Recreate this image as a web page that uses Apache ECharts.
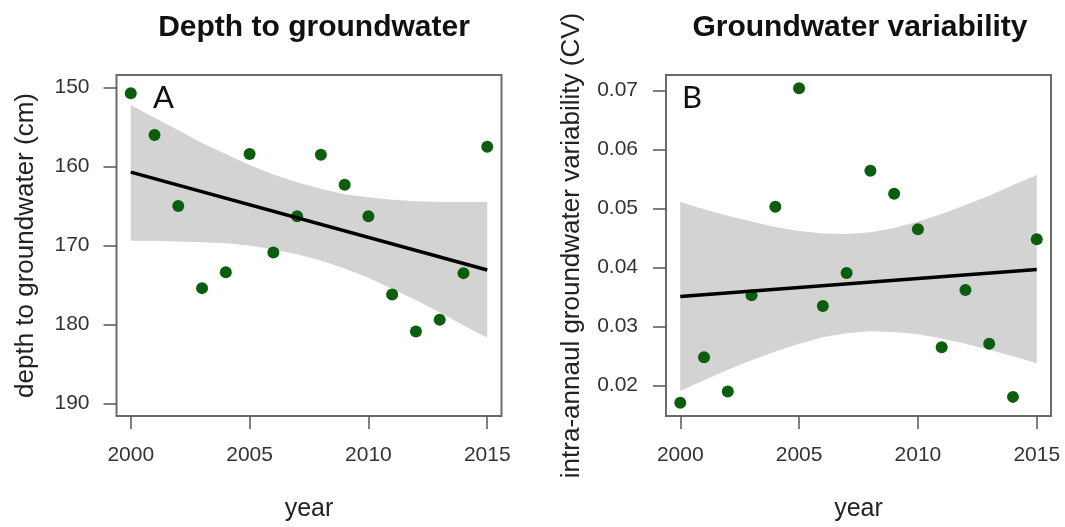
<!DOCTYPE html>
<html>
<head>
<meta charset="utf-8">
<script src="https://cdn.jsdelivr.net/npm/echarts@6/dist/echarts.min.js"></script>
<style>
html,body{margin:0;padding:0;background:#fff;}
#chart{width:1065px;height:527px;}
</style>
</head>
<body>
<div id="chart"></div>
<script>
// ---- data ----
const years = [2000,2001,2002,2003,2004,2005,2006,2007,2008,2009,2010,2011,2012,2013,2014,2015];
const xTicks = [2000,2005,2010,2015];

// Panel A: depth to groundwater (cm)
const depth = [150.7,156.0,165.0,175.4,173.4,158.4,170.9,166.3,158.5,162.3,166.3,176.2,180.9,179.4,173.5,157.5];
const depthFitYears = [2000,2015];
const depthFit = [160.7,173.1];
const depthUpper = [152.2,153.8,155.4,157.0,158.4,159.8,161.0,162.0,162.8,163.5,163.9,164.2,164.4,164.5,164.5,164.5];
const depthLower = [169.4,169.4,169.5,169.6,169.7,170.0,170.5,171.1,171.9,172.9,174.1,175.5,176.9,178.5,180.1,181.7];
const depthTicks = [150,160,170,180,190];

// Panel B: intra-annual groundwater variability (CV)
const cv = [0.0171,0.0248,0.0190,0.0353,0.0503,0.0704,0.0335,0.0391,0.0564,0.0525,0.0465,0.0265,0.0362,0.0271,0.0181,0.0448];
const cvFitYears = [2000,2015];
const cvFit = [0.0351,0.0397];
const cvUpper = [0.0511,0.0499,0.0488,0.0478,0.0469,0.0462,0.0458,0.0457,0.0460,0.0467,0.0478,0.0491,0.0506,0.0522,0.0540,0.0557];
const cvLower = [0.0191,0.0209,0.0227,0.0243,0.0258,0.0271,0.0282,0.0289,0.0292,0.0291,0.0287,0.0280,0.0271,0.0261,0.0250,0.0238];
const cvTicks = [0.02,0.03,0.04,0.05,0.06,0.07];

// ---- chart ----
const chart = echarts.init(document.getElementById('chart'), null, {renderer:'canvas'});
const FONT = '"Liberation Sans", Arial, Helvetica, sans-serif';
const GREEN = '#0a5e0d';
const BAND = '#d3d3d3';

function bandRenderer(upper, lower){
  return function(params, api){
    if (params.dataIndex !== 0) return;
    const pts = [];
    for (let i = 0; i < years.length; i++) pts.push(api.coord([years[i], upper[i]]));
    for (let i = years.length - 1; i >= 0; i--) pts.push(api.coord([years[i], lower[i]]));
    return {type:'polygon', shape:{points:pts}, style:{fill:BAND}, z2:0};
  };
}

function xAxisCfg(gridIndex){
  return {
    gridIndex, type:'value', min:1999.4, max:2015.6,
    name:'year', nameLocation:'middle', nameGap:81,
    nameTextStyle:{fontFamily:FONT, fontSize:25, color:'#222'},
    axisLine:{show:false},
    splitLine:{show:false},
    axisTick:{show:true, customValues:xTicks, length:13, lineStyle:{color:'#555', width:1.5}},
    axisLabel:{customValues:xTicks, fontFamily:FONT, fontSize:21, color:'#333', margin:29,
      formatter:v => String(Math.round(v))}
  };
}

const option = {
  backgroundColor:'#fff',
  animation:false,
  title:[
    {text:'Depth to groundwater', left:309, textAlign:'center', top:8,
     textStyle:{fontFamily:FONT, fontSize:30, fontWeight:'bold', color:'#111'}},
    {text:'Groundwater variability', left:855, textAlign:'center', top:8,
     textStyle:{fontFamily:FONT, fontSize:30, fontWeight:'bold', color:'#111'}},
    {text:'A', left:148, top:77,
     textStyle:{fontFamily:'Lato, "Open Sans", sans-serif', fontSize:31, fontWeight:'normal', color:'#111'}},
    {text:'B', left:677, top:77,
     textStyle:{fontFamily:'Lato, "Open Sans", sans-serif', fontSize:31, fontWeight:'normal', color:'#111'}}
  ],
  grid:[
    {left:116.5, top:75, width:385, height:343, show:true, borderColor:'#6b6b6b', borderWidth:2, backgroundColor:'transparent'},
    {left:666, top:75, width:385, height:343, show:true, borderColor:'#6b6b6b', borderWidth:2, backgroundColor:'transparent'}
  ],
  xAxis:[xAxisCfg(0), xAxisCfg(1)],
  yAxis:[
    {gridIndex:0, type:'value', min:148.4, max:191.6, inverse:true,
     name:'depth to groundwater (cm)', nameLocation:'middle', nameGap:78, nameRotate:90,
     nameTextStyle:{fontFamily:FONT, fontSize:26, color:'#222'},
     axisLine:{show:false}, splitLine:{show:false},
     axisTick:{show:true, customValues:depthTicks, length:13, lineStyle:{color:'#555', width:1.5}},
     axisLabel:{customValues:depthTicks, fontFamily:FONT, fontSize:21, color:'#333', margin:27,
       formatter:v => String(Math.round(v))}},
    {gridIndex:1, type:'value', min:0.01486, max:0.07264,
     name:'intra-annaul groundwater variability (CV)', nameLocation:'middle', nameGap:81, nameRotate:90,
     nameTextStyle:{fontFamily:FONT, fontSize:26, color:'#222'},
     axisLine:{show:false}, splitLine:{show:false},
     axisTick:{show:true, customValues:cvTicks, length:13, lineStyle:{color:'#555', width:1.5}},
     axisLabel:{customValues:cvTicks, fontFamily:FONT, fontSize:21, color:'#333', margin:28,
       formatter:v => v.toFixed(2)}}
  ],
  series:[
    {type:'custom', xAxisIndex:0, yAxisIndex:0, z:1, silent:true,
     renderItem:bandRenderer(depthUpper, depthLower),
     data:years.map((y,i)=>[y, depthUpper[i], depthLower[i]]),
     encode:{x:0, y:[1,2]}},
    {type:'scatter', xAxisIndex:0, yAxisIndex:0, z:2, symbolSize:12,
     itemStyle:{color:GREEN, opacity:1},
     data:years.map((y,i)=>[y, depth[i]])},
    {type:'line', xAxisIndex:0, yAxisIndex:0, z:3, symbol:'none',
     lineStyle:{color:'#000', width:3.5},
     data:depthFitYears.map((y,i)=>[y, depthFit[i]])},

    {type:'custom', xAxisIndex:1, yAxisIndex:1, z:1, silent:true,
     renderItem:bandRenderer(cvUpper, cvLower),
     data:years.map((y,i)=>[y, cvUpper[i], cvLower[i]]),
     encode:{x:0, y:[1,2]}},
    {type:'scatter', xAxisIndex:1, yAxisIndex:1, z:2, symbolSize:12,
     itemStyle:{color:GREEN, opacity:1},
     data:years.map((y,i)=>[y, cv[i]])},
    {type:'line', xAxisIndex:1, yAxisIndex:1, z:3, symbol:'none',
     lineStyle:{color:'#000', width:3.5},
     data:cvFitYears.map((y,i)=>[y, cvFit[i]])}
  ]
};
chart.setOption(option);
</script>
</body>
</html>
